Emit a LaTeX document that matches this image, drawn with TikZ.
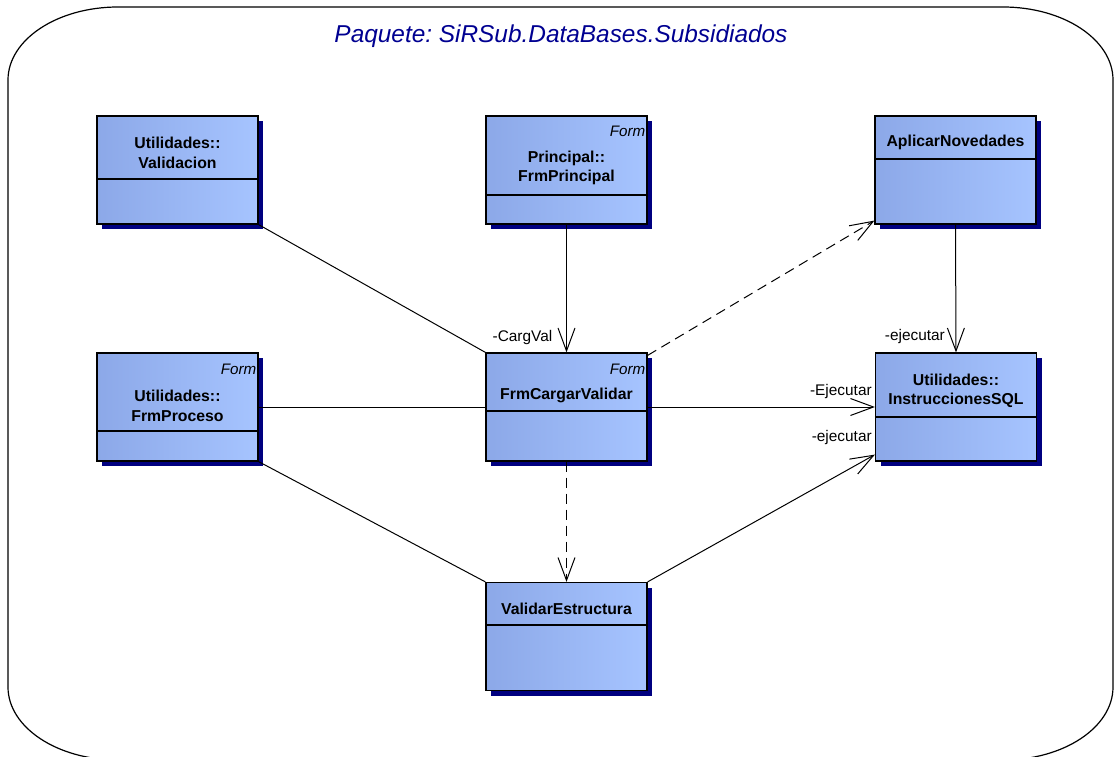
\documentclass[tikz,border=0pt]{standalone}
\usepackage{fontspec}
\setmainfont{Liberation Sans}
\frenchspacing
\usetikzlibrary{arrows.meta,shadows}
\definecolor{boxdark}{RGB}{140,168,232}
\definecolor{boxlight}{RGB}{166,196,255}
\definecolor{shadowblue}{RGB}{0,0,128}
\definecolor{titleblue}{RGB}{0,0,145}

\begin{document}
\begin{tikzpicture}[x=1pt,y=-1pt,
    clase/.style={draw,line width=1.2pt,minimum width=161pt,minimum height=108pt,
      inner sep=0pt,left color=boxdark,middle color=boxlight,right color=boxlight,
      drop shadow={shadow xshift=5pt,shadow yshift=-5pt,fill=shadowblue,opacity=1}},
    nombre/.style={font=\fontsize{15.8}{19.5}\selectfont\bfseries,align=center,inner sep=0pt},
    estereo/.style={font=\fontsize{15.2}{18}\selectfont\itshape,anchor=east,inner sep=0pt},
    rol/.style={font=\fontsize{15.4}{18}\selectfont,anchor=east,inner sep=0pt},
    sep/.style={line width=1.2pt},
    asoc/.style={line width=1pt},
    nav/.style={line width=1pt,-{Straight Barb[length=23pt,width=17pt]}},
    dep/.style={nav,dash pattern=on 10pt off 6pt}]
    \useasboundingbox (0,0) rectangle (1114,757);

    %paquete
    \draw[line width=1.2pt] (8,80) arc[start angle=180,end angle=270,x radius=110,y radius=73]
      -- (1003,7) arc[start angle=270,end angle=360,x radius=110,y radius=73]
      -- (1113,687) arc[start angle=0,end angle=90,x radius=110,y radius=73]
      -- (118,760) arc[start angle=90,end angle=180,x radius=110,y radius=73] -- cycle;
    \node[font=\fontsize{24.4}{28}\selectfont\itshape,text=titleblue] (titulo) at (561,36)
      {Paquete: SiRSub.DataBases.Subsidiados};

    %clases fila 1
    \node[clase] (validacion) at (177.5,170) {};
    \draw[sep] (validacion.west |- 0,179) -- (validacion.east |- 0,179);
    \node[nombre] (validacion-n) at (177.5,153) {Utilidades::\\Validacion};

    \node[clase] (principal) at (566.5,170) {};
    \draw[sep] (principal.west |- 0,195) -- (principal.east |- 0,195);
    \node[estereo] (principal-f) at ([xshift=-2pt,yshift=-16pt]principal.north east) {Form};
    \node[nombre] (principal-n) at (566.5,168) {Principal::\\FrmPrincipal};

    \node[clase] (aplicar) at (955.5,170) {};
    \draw[sep] (aplicar.west |- 0,159) -- (aplicar.east |- 0,159);
    \node[nombre] (aplicar-n) at (955.5,142) {AplicarNovedades};

    %clases fila 2
    \node[clase] (proceso) at (177.5,407) {};
    \draw[sep] (proceso.west |- 0,431) -- (proceso.east |- 0,431);
    \node[estereo] (proceso-f) at ([xshift=-2pt,yshift=-17pt]proceso.north east) {Form};
    \node[nombre] (proceso-n) at (177.5,406) {Utilidades::\\FrmProceso};

    \node[clase] (cargar) at (566.5,407) {};
    \draw[sep] (cargar.west |- 0,411) -- (cargar.east |- 0,411);
    \node[estereo] (cargar-f) at ([xshift=-2pt,yshift=-17pt]cargar.north east) {Form};
    \node[nombre] (cargar-n) at (566.5,395) {FrmCargarValidar};

    \node[clase] (sql) at (956,407) {};
    \draw[sep] (sql.west |- 0,417) -- (sql.east |- 0,417);
    \node[nombre] (sql-n) at (956,391) {Utilidades::\\InstruccionesSQL};

    %clase fila 3
    \node[clase] (validar) at (566.5,636.5) {};
    \draw[sep] (validar.west |- 0,625) -- (validar.east |- 0,625);
    \node[nombre] (validar-n) at (566.5,609) {ValidarEstructura};

    %relaciones
    \draw[asoc] (validacion.south east) -- (cargar.north west);
    \draw[asoc] (proceso.east) -- (cargar.west);
    \draw[asoc] (proceso.south east) -- (validar.north west);
    \draw[nav] (principal.south) -- (cargar.north);
    \draw[nav] (aplicar.south) -- (sql.north);
    \draw[nav] (cargar.east) -- (sql.west);
    \draw[nav] (validar.north east) -- ([yshift=7pt]sql.south west);
    \draw[dep] ([yshift=-3pt]cargar.north east) -- ([yshift=4pt]aplicar.south west);
    \draw[dep] (cargar.south) -- (validar.north);

    %roles
    \node[rol] (rol-carg) at ([xshift=-14pt,yshift=15pt]cargar.north) {-CargVal};
    \node[rol] (rol-ejec1) at ([xshift=-11pt,yshift=16pt]sql.north) {-ejecutar};
    \node[rol] (rol-ejec2) at ([xshift=-3pt,yshift=15pt]sql.west) {-Ejecutar};
    \node[rol] (rol-ejec3) at ([xshift=-3pt,yshift=24pt]sql.south west) {-ejecutar};
\end{tikzpicture}
\end{document}
